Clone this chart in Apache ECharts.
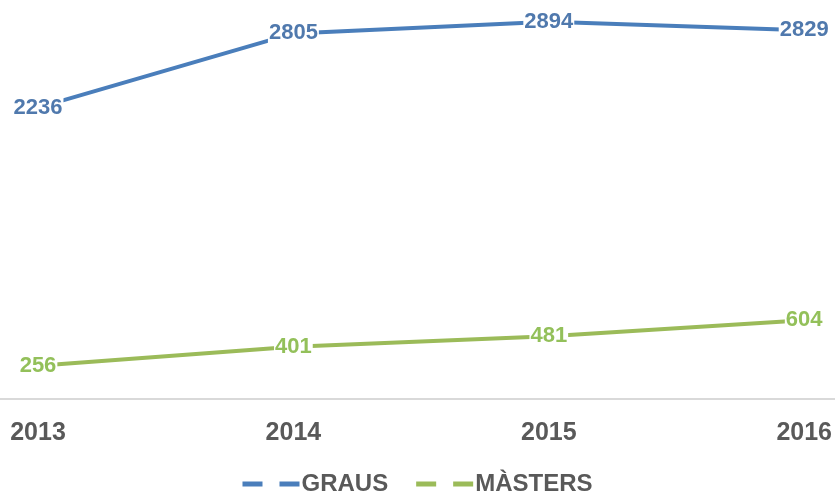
<!DOCTYPE html>
<html>
<head>
<meta charset="utf-8">
<script src="https://cdn.jsdelivr.net/npm/echarts@6/dist/echarts.min.js"></script>
<style>
  html, body { margin: 0; padding: 0; background: #fff; }
  #chart { width: 835px; height: 498px; }
</style>
</head>
<body>
<div id="chart"></div>
<script>
  // dades
  var years = ['2013', '2014', '2015', '2016'];
  var graus = [2236, 2805, 2894, 2829];
  var masters = [256, 401, 481, 604];

  var blue = '#4a7ebb';
  var green = '#9bbb59';
  var dashIcon = 'path://M0,0h20v5h-20z M37,0h20v5h-20z';

  var chart = echarts.init(document.getElementById('chart'));

  function labelOf(color) {
    return {
      show: true,
      position: 'inside',
      color: color,
      fontFamily: 'Liberation Sans, Arial',
      fontWeight: 'bold',
      fontSize: 22,
      backgroundColor: '#fff',
      padding: [0, 1]
    };
  }

  chart.setOption({
    animation: false,
    grid: { left: 38, right: 30, top: 8, bottom: 99 },
    xAxis: {
      type: 'category',
      data: years,
      boundaryGap: false,
      axisLine: { show: false },
      axisTick: { show: false },
      axisLabel: {
        color: '#595959',
        fontFamily: 'Liberation Sans, Arial',
        fontWeight: 'bold',
        fontSize: 25,
        margin: 22,
        showMinLabel: true,
        showMaxLabel: true
      }
    },
    yAxis: {
      type: 'value',
      min: 0,
      max: 3000,
      show: false,
      splitLine: { show: false }
    },
    legend: {
      top: 467,
      left: 'center',
      icon: dashIcon,
      itemWidth: 57,
      itemHeight: 5,
      itemGap: 28,
      textStyle: {
        color: '#595959',
        fontFamily: 'Liberation Sans, Arial',
        fontWeight: 'bold',
        fontSize: 24,
        padding: [0, 0, 0, -3]
      },
      data: [
        { name: 'GRAUS', itemStyle: { color: blue, opacity: 1 } },
        { name: 'MÀSTERS', itemStyle: { color: green, opacity: 1 } }
      ]
    },
    graphic: [{
      type: 'line',
      shape: { x1: 0, y1: 399, x2: 835, y2: 399 },
      style: { stroke: '#d9d9d9', lineWidth: 2 },
      z: 0
    }],
    series: [
      {
        name: 'GRAUS',
        type: 'line',
        data: graus,
        symbol: 'circle',
        symbolSize: 2,
        itemStyle: { color: 'rgba(0,0,0,0)', borderWidth: 0 },
        lineStyle: { color: blue, width: 4 },
        label: labelOf('#5079ad')
      },
      {
        name: 'MÀSTERS',
        type: 'line',
        data: masters,
        symbol: 'circle',
        symbolSize: 2,
        itemStyle: { color: 'rgba(0,0,0,0)', borderWidth: 0 },
        lineStyle: { color: green, width: 4 },
        label: labelOf('#93c05a')
      }
    ]
  });
</script>
</body>
</html>
